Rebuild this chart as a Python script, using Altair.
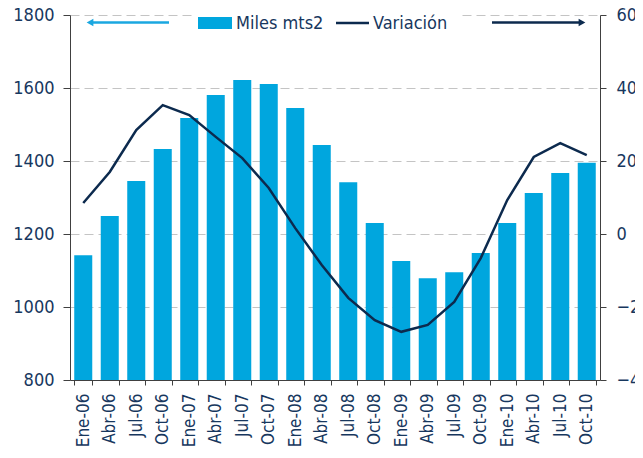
import altair as alt
import pandas as pd

categories = ["Ene-06", "Abr-06", "Jul-06", "Oct-06", "Ene-07", "Abr-07", "Jul-07", "Oct-07",
              "Ene-08", "Abr-08", "Jul-08", "Oct-08", "Ene-09", "Abr-09", "Jul-09", "Oct-09",
              "Ene-10", "Abr-10", "Jul-10", "Oct-10"]
miles_mts2 = [1142, 1249, 1345, 1433, 1518, 1581, 1622, 1611, 1545, 1444,
              1342, 1230, 1126, 1079, 1095, 1148, 1230, 1312, 1367, 1395]
variacion = [8.5, 17.0, 28.5, 35.3, 32.6, 26.6, 20.8, 12.6, 1.6, -8.5,
             -17.5, -23.6, -26.8, -24.9, -18.6, -6.6, 9.3, 21.1, 24.9, 21.6]
left_ticks = [800, 1000, 1200, 1400, 1600, 1800]
right_ticks = [-40, -20, 0, 20, 40, 60]

df = pd.DataFrame({"cat": categories, "miles": miles_mts2, "var": variacion})

FONT = "DejaVu Sans Condensed, DejaVu Sans"
NAVY = "#17375E"
BAR = "#00A6DE"
LINE = "#0C2A4E"
AXIS = "#404040"

x = alt.X("cat:N", sort=categories, title=None,
          scale=alt.Scale(paddingInner=0.32, paddingOuter=0.16),
          axis=alt.Axis(labelAngle=-90, labelFontSize=17, labelColor=NAVY, labelFont=FONT,
                        tickBand="extent", tickSize=5, tickColor=AXIS, domainColor=AXIS,
                        labelPadding=8, labelBaseline="middle"))

bars = alt.Chart(df).mark_bar(color=BAR).encode(
    x=x,
    y=alt.Y("miles:Q", title=None,
            scale=alt.Scale(domain=[800, 1800], nice=False, zero=False),
            axis=alt.Axis(values=left_ticks, format="d", orient="left", labelFontSize=18,
                          labelColor=NAVY, labelFont=FONT, tickSize=7, tickColor=AXIS,
                          domainColor=AXIS, labelPadding=9, grid=True, gridDash=[9, 5],
                          gridColor="#C4C4C4")),
    y2=alt.datum(800),
)

line = alt.Chart(df).mark_line(color=LINE, strokeWidth=2.5).encode(
    x=alt.X("cat:N", sort=categories),
    y=alt.Y("var:Q", title=None,
            scale=alt.Scale(domain=[-40, 60], nice=False, zero=False),
            axis=alt.Axis(values=right_ticks, format="d", orient="right", labelFontSize=18,
                          labelColor=NAVY, labelFont=FONT, tickSize=6, tickColor=AXIS,
                          domainColor=AXIS, labelPadding=10, grid=False)),
)

one = pd.DataFrame({"k": [0]})
leg_bg = alt.Chart(one).mark_rect(color="white").encode(
    x=alt.value(125), x2=alt.value(389), y=alt.value(-3), y2=alt.value(17))
leg_sq = alt.Chart(one).mark_rect(color=BAR).encode(
    x=alt.value(128), x2=alt.value(162), y=alt.value(2), y2=alt.value(14))
leg_t1 = alt.Chart(one).mark_text(text="Miles mts2", align="left", baseline="middle",
                                  fontSize=18, font=FONT, color=NAVY).encode(
    x=alt.value(166), y=alt.value(8.5))
leg_ln = alt.Chart(one).mark_rule(color=LINE, strokeWidth=2.5).encode(
    x=alt.value(266), x2=alt.value(299), y=alt.value(8))
leg_t2 = alt.Chart(one).mark_text(text="Variación", align="left", baseline="middle",
                                  fontSize=18, font=FONT, color=NAVY).encode(
    x=alt.value(303), y=alt.value(8.5))
arr_l = alt.Chart(one).mark_rule(color="#1AA7E0", strokeWidth=2.5).encode(
    x=alt.value(22), x2=alt.value(99), y=alt.value(7.5))
arr_lh = alt.Chart(one).mark_point(shape="triangle-left", filled=True, color="#1AA7E0",
                                   size=60, opacity=1).encode(x=alt.value(20), y=alt.value(7.5))
arr_r = alt.Chart(one).mark_rule(color=LINE, strokeWidth=2.5).encode(
    x=alt.value(422), x2=alt.value(510), y=alt.value(7.5))
arr_rh = alt.Chart(one).mark_point(shape="triangle-right", filled=True, color=LINE,
                                   size=60, opacity=1).encode(x=alt.value(512), y=alt.value(7.5))

chart = alt.layer(bars, line, leg_bg, leg_sq, leg_t1, leg_ln, leg_t2,
                  arr_l, arr_lh, arr_r, arr_rh).resolve_scale(y="independent").properties(
    width=530, height=365,
    autosize=alt.AutoSizeParams(type="none"),
    padding={"left": 62, "top": 7, "right": 35, "bottom": 70},
    background="white",
).configure_view(stroke=None)

chart.save("out.html", embed_options={"renderer": "svg", "actions": False})
